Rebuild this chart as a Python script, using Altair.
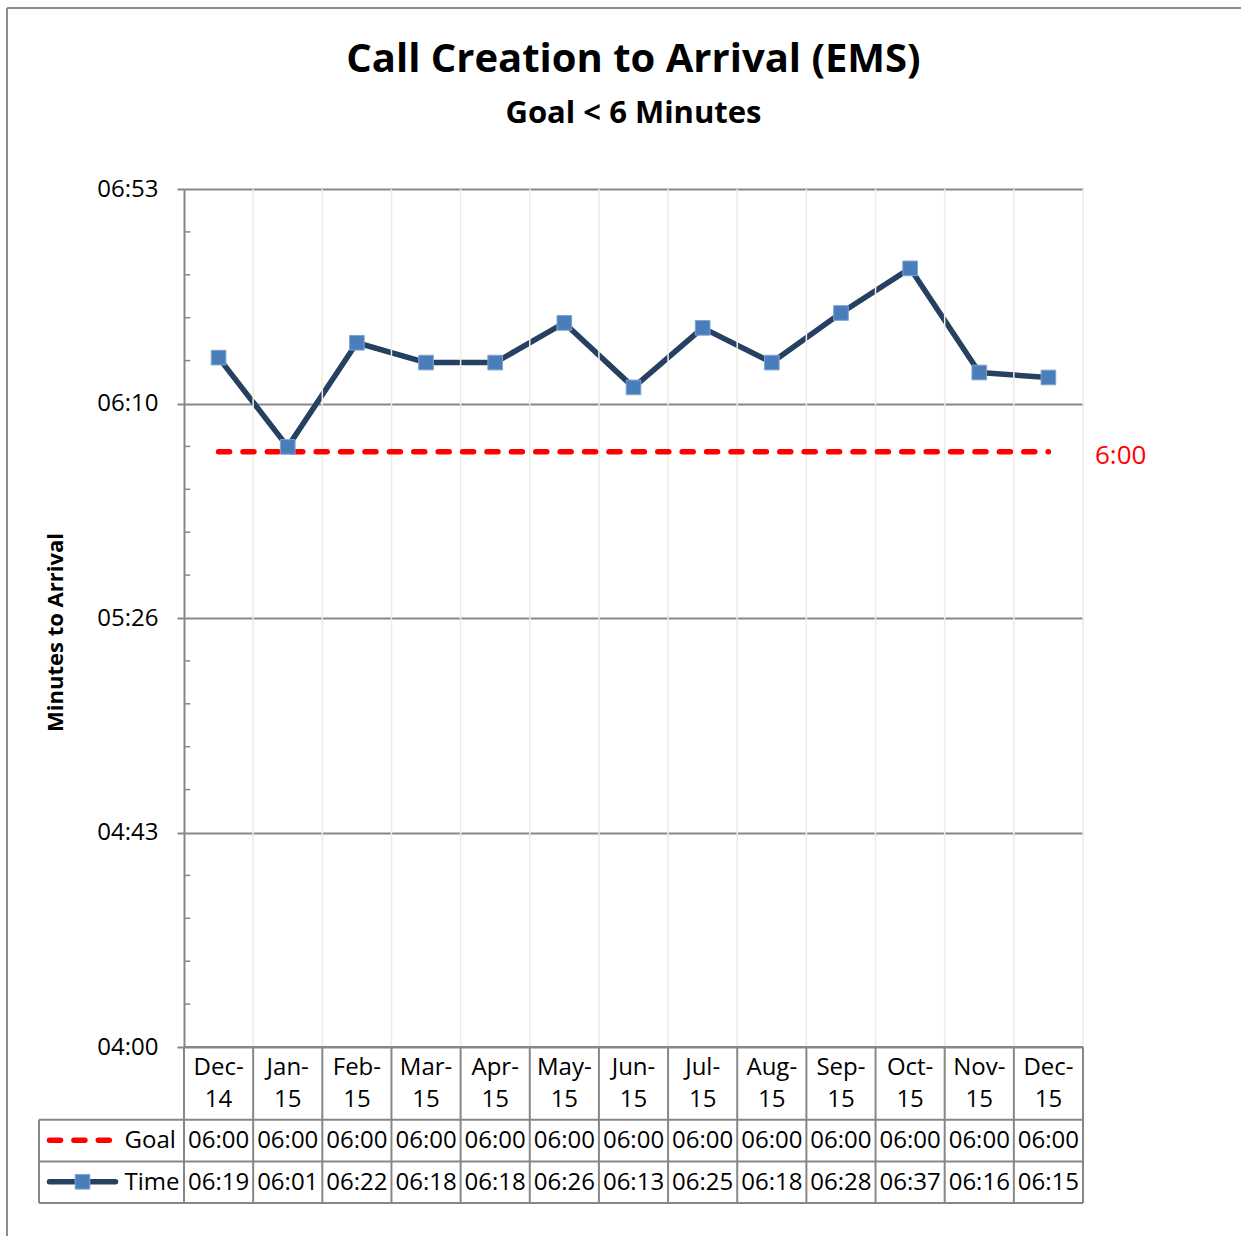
import altair as alt
import numpy as np
import pandas as pd

# ---- chart values -------------------------------------------------------
months = ["Dec-14", "Jan-15", "Feb-15", "Mar-15", "Apr-15", "May-15", "Jun-15",
          "Jul-15", "Aug-15", "Sep-15", "Oct-15", "Nov-15", "Dec-15"]
goal_labels = ["06:00"] * 13
time_labels = ["06:19", "06:01", "06:22", "06:18", "06:18", "06:26", "06:13",
               "06:25", "06:18", "06:28", "06:37", "06:16", "06:15"]
axis_labels = ["04:00", "04:43", "05:26", "06:10", "06:53"]
axis_min_s, axis_max_s = 240, 413
goal_note = "6:00"

FONT = "Open Sans"
NAVY = "#264061"
MARKER = "#4A7EBB"
RED = "#FF0000"
GRID = "#878787"
LIGHT = "#ECECE2"

PLOT_W, PLOT_H = 899, 858


def to_seconds(label):
    m, s = label.split(":")
    return int(m) * 60 + int(s)


n = len(months)
main_df = pd.DataFrame({
    "month": months,
    "x": np.arange(n) + 0.5,
    "time_s": [to_seconds(t) for t in time_labels],
    "goal_s": [to_seconds(g) for g in goal_labels],
})

# major ticks evenly split the axis range; four minor ticks between them
major = [float(v) for v in np.linspace(axis_min_s, axis_max_s, len(axis_labels))]
step = major[1] - major[0]
minor = [m + k * step / 5 for m in major[:-1] for k in range(1, 5)]
label_expr = ""
for i, lab in enumerate(axis_labels[:-1]):
    label_expr += f"datum.value < {major[i] + step / 2} ? '{lab}' : "
label_expr += f"'{axis_labels[-1]}'"

xs = alt.Scale(domain=[0, n], nice=False, zero=False)
ys = alt.Scale(domain=[axis_min_s, axis_max_s], nice=False, zero=False)
# the shared y axis is defined once (on the time line); other layers leave it
# unset so that they merge into it
X = lambda f: alt.X(f, scale=xs, axis=None)
Y = lambda f: alt.Y(f, scale=ys)

# ---- plot area ----------------------------------------------------------
base = alt.Chart(main_df)

yaxis = alt.Axis(
    values=major, labelExpr=label_expr, grid=True, gridColor=GRID,
    gridWidth=2, domainColor=GRID, domainWidth=2, tickColor=GRID, tickWidth=2,
    tickSize=7, labelFont=FONT, labelFontSize=24, labelColor="black",
    labelPadding=19, title="Minutes to Arrival", titleFont=FONT,
    titleFontSize=22, titleFontWeight="bold", titleColor="black",
    titleX=-129, titleY=443, titleBaseline="middle", titleAlign="center",
)

time_line = base.mark_line(
    color=NAVY, strokeWidth=5.5, strokeJoin="round", strokeCap="round"
).encode(
    x=X("x:Q"),
    y=alt.Y("time_s:Q", scale=ys, axis=yaxis),
)

vgrid = alt.Chart(pd.DataFrame({"x": list(range(1, n + 1))})).mark_rule(
    color=LIGHT, strokeWidth=1.5
).encode(x=X("x:Q"))

goal_line = base.mark_line(
    color=RED, strokeWidth=5.5, strokeDash=[11, 13.4], strokeCap="round"
).encode(x=X("x:Q"), y=Y("goal_s:Q"))

time_pts = base.mark_square(
    size=215, color=MARKER, opacity=1, stroke="#7FA4D2", strokeWidth=1
).encode(x=X("x:Q"), y=Y("time_s:Q"))

note_df = pd.DataFrame({"x": [n], "y": [to_seconds(goal_labels[-1])], "t": [goal_note]})
goal_note_mark = alt.Chart(note_df).mark_text(
    align="left", baseline="middle", dx=12, dy=4, font=FONT, fontSize=26, color=RED
).encode(x=X("x:Q"), y=Y("y:Q"), text="t:N")

minor_df = pd.DataFrame({"y": minor, "x0": 0.0, "x1": 0.09})
minor_ticks = alt.Chart(minor_df).mark_rule(color=GRID, strokeWidth=1.5).encode(
    x=X("x0:Q"), x2="x1:Q", y=Y("y:Q")
)

# ---- data table under the plot -----------------------------------------
# table rows are measured in row units (header 0-1.75, Goal 1.75-2.75,
# Time 2.75-3.75) and continue the time scale below its minimum
ROW_PX = 41.6
sec_per_px = (axis_max_s - axis_min_s) / PLOT_H


def row(u):
    return axis_min_s - u * ROW_PX * sec_per_px


legend_w = 145 / (PLOT_W / n)  # legend column width in category units

hlines = pd.DataFrame({
    "y": [row(u) for u in [0, 1.75, 2.75, 3.75]],
    "x0": [0, -legend_w, -legend_w, -legend_w],
    "x1": [n, n, n, n],
})
vlines = pd.DataFrame({
    "x": list(range(0, n + 1)) + [-legend_w],
    "y0": [row(0)] * (n + 1) + [row(1.75)],
    "y1": [row(3.75)] * (n + 2),
})

h_rules = alt.Chart(hlines).mark_rule(color=GRID, strokeWidth=2).encode(
    x=X("x0:Q"), x2="x1:Q", y=Y("y:Q")
)
v_rules = alt.Chart(vlines).mark_rule(color=GRID, strokeWidth=2).encode(
    x=X("x:Q"), y=Y("y0:Q"), y2="y1:Q"
)

text_rows = []
for i, m in enumerate(months):
    top, bottom = m.split("-")
    text_rows.append({"x": i + 0.5, "y": row(0.5), "t": top + "-"})
    text_rows.append({"x": i + 0.5, "y": row(1.27), "t": bottom})
    text_rows.append({"x": i + 0.5, "y": row(2.25), "t": goal_labels[i]})
    text_rows.append({"x": i + 0.5, "y": row(3.26), "t": time_labels[i]})
text_df = pd.DataFrame(text_rows)

cells = alt.Chart(text_df).mark_text(
    align="center", baseline="middle", font=FONT, fontSize=24, color="black"
).encode(x=X("x:Q"), y=Y("y:Q"), text="t:N")

# legend keys in the first column
unit = PLOT_W / n


def col(v):
    # horizontal position inside the legend column, in category units
    return (v - 184) / unit


key_goal = alt.Chart(pd.DataFrame({"x0": [col(49.5)], "x1": [col(110.5)], "y": [row(2.24)]})).mark_rule(
    color=RED, strokeWidth=5.5, strokeDash=[11, 13.4], strokeCap="round"
).encode(x=X("x0:Q"), x2="x1:Q", y=Y("y:Q"))
key_time = alt.Chart(pd.DataFrame({"x0": [col(49.5)], "x1": [col(115.5)], "y": [row(3.24)]})).mark_rule(
    color=NAVY, strokeWidth=5.5, strokeCap="round"
).encode(x=X("x0:Q"), x2="x1:Q", y=Y("y:Q"))
key_pt = alt.Chart(pd.DataFrame({"x": [col(82.5)], "y": [row(3.24)]})).mark_square(
    size=215, color=MARKER, opacity=1, stroke="#7FA4D2", strokeWidth=1
).encode(x=X("x:Q"), y=Y("y:Q"))
key_text = alt.Chart(pd.DataFrame({"x": [col(124.5)] * 2, "y": [row(2.25), row(3.26)], "t": ["Goal", "Time"]})).mark_text(
    align="left", baseline="middle", font=FONT, fontSize=24, color="black"
).encode(x=X("x:Q"), y=Y("y:Q"), text="t:N")

# ---- outer chart border -------------------------------------------------
one = pd.DataFrame({"a": [0]})
frame_top = alt.Chart(one).mark_rule(color="#8C8C8C", strokeWidth=2).encode(
    x=alt.value(-177), x2=alt.value(1060), y=alt.value(-181)
)
frame_left = alt.Chart(one).mark_rule(color="#8C8C8C", strokeWidth=2).encode(
    x=alt.value(-177), y=alt.value(-181), y2=alt.value(1050)
)

chart = alt.layer(
    time_line, vgrid, minor_ticks, goal_line, time_pts, goal_note_mark,
    h_rules, v_rules, cells, key_goal, key_time, key_pt, key_text,
    frame_top, frame_left,
).properties(
    width=PLOT_W,
    height=PLOT_H,
    background="white",
    autosize=alt.AutoSizeParams(type="none"),
    padding={"left": 184, "top": 189, "right": 158, "bottom": 189},
    title=alt.TitleParams(
        text="Call Creation to Arrival (EMS)",
        subtitle="Goal < 6 Minutes",
        anchor="middle",
        frame="group",
        font=FONT,
        fontSize=40,
        fontWeight="bold",
        color="black",
        subtitleFont=FONT,
        subtitleFontSize=31,
        subtitleFontWeight="bold",
        subtitleColor="black",
        subtitlePadding=19,
        offset=-122,
    ),
).configure_view(strokeWidth=0)

chart.save("out.html", embed_options={"renderer": "svg", "actions": False})
